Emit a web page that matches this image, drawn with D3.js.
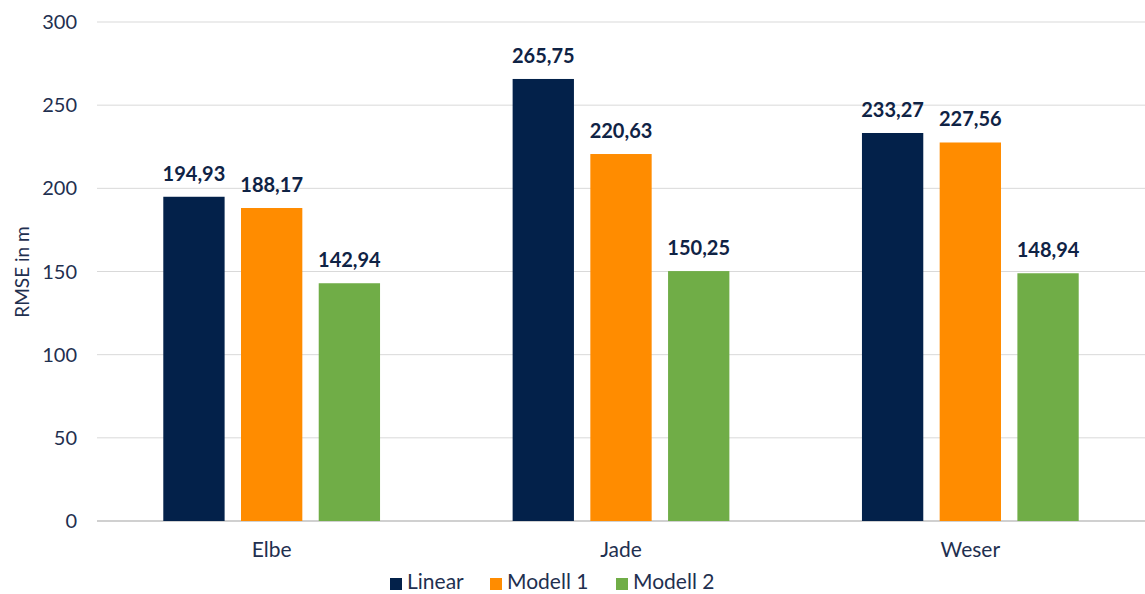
<!DOCTYPE html>
<html><head><meta charset="utf-8">
<script src="https://cdn.jsdelivr.net/npm/d3@7"></script>
<style>body{margin:0;background:#fff}text{font-family:"Lato","Open Sans",sans-serif}</style>
</head><body><svg id="c" width="1145" height="594"></svg>
<script>
const categories=["Elbe","Jade","Weser"];
const seriesNames=["Linear","Modell 1","Modell 2"];
const linear=[194.93,265.75,233.27];
const modell1=[188.17,220.63,227.56];
const modell2=[142.94,150.25,148.94];
const yTicks=[0,50,100,150,200,250,300];
const colors=["#03214a","#ff8c00","#70ad47"];
const series=[linear,modell1,modell2];

const svg=d3.select("#c");
const L=97,R=1145,T=22,B=521;
const x=d3.scaleBand().domain(categories).range([L,R]);
const xi=d3.scaleBand().domain(seriesNames).range([0,x.bandwidth()]).paddingInner(0.211).paddingOuter(0.853);
const y=d3.scaleLinear().domain([0,300]).range([B,T]);
const txt="#1f3050";

svg.append("g").selectAll("line").data(yTicks).join("line")
 .attr("x1",L).attr("x2",R).attr("y1",d=>y(d)).attr("y2",d=>y(d))
 .attr("stroke",d=>d===0?"#d0d0d0":"#d9d9d9").attr("stroke-width",d=>d===0?2:1);
svg.append("g").selectAll("text").data(yTicks).join("text")
 .attr("x",77).attr("y",d=>y(d)+7).attr("text-anchor","end")
 .attr("font-size",20).attr("fill",txt).text(d=>d);

const g=svg.append("g");
series.forEach((vals,si)=>{
 g.selectAll(null).data(vals).join("rect")
  .attr("x",(d,i)=>x(categories[i])+xi(seriesNames[si]))
  .attr("width",xi.bandwidth()).attr("y",d=>y(d)).attr("height",d=>B-y(d)).attr("fill",colors[si]);
 g.selectAll(null).data(vals).join("text")
  .attr("x",(d,i)=>x(categories[i])+xi(seriesNames[si])+xi.bandwidth()/2)
  .attr("y",d=>y(d)-16).attr("text-anchor","middle").attr("font-size",20).attr("font-weight","bold")
  .attr("fill","#0f2345").text(d=>d.toFixed(2).replace(".",","));
});

svg.append("g").selectAll("text").data(categories).join("text")
 .attr("x",d=>x(d)+x.bandwidth()/2).attr("y",557).attr("text-anchor","middle")
 .attr("font-size",21).attr("fill",txt).text(d=>d);

svg.append("text").attr("transform","translate(29,272) rotate(-90)").attr("text-anchor","middle")
 .attr("font-size",19).attr("fill",txt).text("RMSE in m");

const legX=[390,490,616];
const lg=svg.append("g");
seriesNames.forEach((n,i)=>{
 lg.append("rect").attr("x",legX[i]).attr("y",578).attr("width",12).attr("height",12).attr("fill",colors[i]);
 lg.append("text").attr("x",legX[i]+17).attr("y",589).attr("font-size",21).attr("fill",txt).text(n);
});
</script></body></html>
